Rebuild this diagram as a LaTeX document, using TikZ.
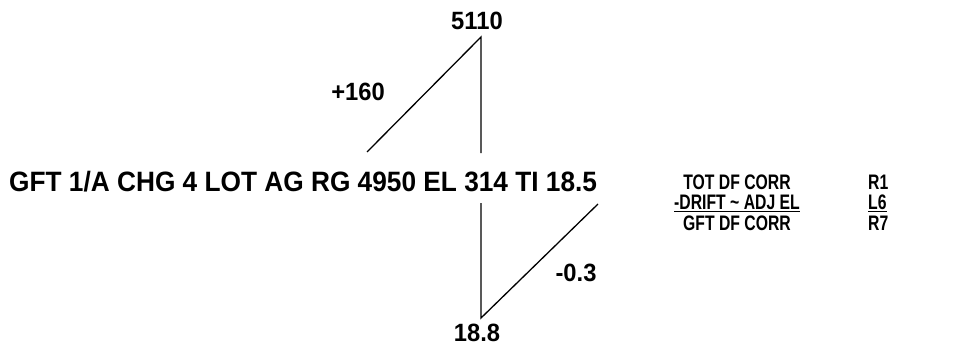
\documentclass[tikz,border=0pt]{standalone}
\usepackage{fontspec}
\setmainfont{Liberation Sans}
\begin{document}
\begin{tikzpicture}[x=1pt,y=-1pt,
  big/.style={font=\bfseries\fontsize{28}{30}\selectfont, inner sep=0pt},
  mid/.style={font=\bfseries\fontsize{25}{28}\selectfont, inner sep=0pt},
  sml/.style={font=\bfseries\fontsize{21}{22}\selectfont, inner sep=0pt},
  ln/.style={line width=1.3pt}]
\useasboundingbox (0,0) rectangle (961,348);
\node[mid] (top) at (477,21) {\scalebox{0.95}[1]{5110}};
\node[mid] (plus) at (358,92) {\scalebox{0.95}[1]{+160}};
\node[big, anchor=west] (main) at (9,182) {\scalebox{0.9375}[1]{GFT 1/A CHG 4 LOT AG RG 4950 EL 314 TI 18.5}};
\node[mid] (minus) at (576,273) {\scalebox{0.95}[1]{-0.3}};
\node[mid] (bot) at (477,333) {\scalebox{0.95}[1]{18.8}};
\coordinate (apex) at (481,37);
\coordinate (ul) at (367,152);
\coordinate (uv) at (481,153);
\coordinate (lv) at (481,203);
\coordinate (lb) at (481,318);
\coordinate (lr) at (598,204);
\draw[ln] (ul) -- (apex) -- (uv);
\draw[ln] (lv) -- (lb) -- (lr);
\node[sml, anchor=base] (t1) at (737,189) {\scalebox{0.75}[1]{TOT DF CORR}};
\node[sml, anchor=base] (t2) at (737,209.5) {\scalebox{0.75}[1]{\underline{-DRIFT \char`\~{} ADJ EL}}};
\node[sml, anchor=base west] (r1) at (868,189) {\scalebox{0.75}[1]{R1}};
\node[sml, anchor=base west] (r2) at (868,209.5) {\scalebox{0.75}[1]{\underline{L6}}};
\node[sml, anchor=base] (t3) at (737,230.5) {\scalebox{0.75}[1]{GFT DF CORR}};
\node[sml, anchor=base west] (r3) at (868,230.5) {\scalebox{0.75}[1]{R7}};
\end{tikzpicture}
\end{document}
